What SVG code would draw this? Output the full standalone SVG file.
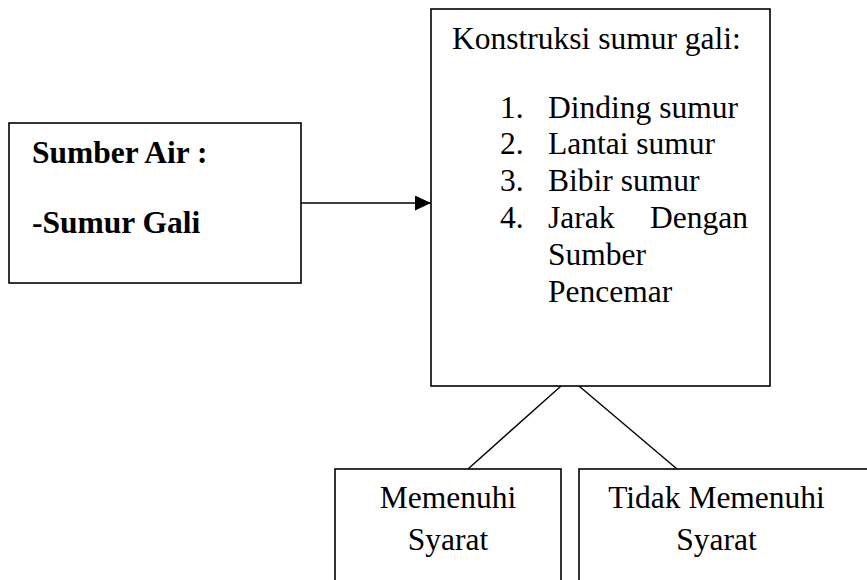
<svg xmlns="http://www.w3.org/2000/svg" width="867" height="580" viewBox="0 0 867 580">
<style>
  .box { fill: #ffffff; stroke: #000000; stroke-width: 1.6; }
  .ln { stroke: #000000; stroke-width: 1.4; fill: none; }
  .t { font-family: "Liberation Serif", "Times New Roman", serif; font-size: 31.5px; fill: #000000; }
  .b { font-weight: bold; }
  .c { text-anchor: middle; }
</style>
<defs>
  <marker id="arr" markerUnits="userSpaceOnUse" markerWidth="16" markerHeight="15" refX="16" refY="7.5" orient="auto">
    <path d="M0,0 L16,7.5 L0,15 Z" fill="#000000"/>
  </marker>
</defs>
<rect width="867" height="580" fill="#ffffff"/>
<g id="connectors">
  <line class="ln" x1="301" y1="203" x2="431" y2="203" stroke-width="2" marker-end="url(#arr)"/>
  <line class="ln" x1="561" y1="386" x2="468" y2="469"/>
  <line class="ln" x1="579" y1="386" x2="677" y2="469"/>
</g>
<g id="sumber-air">
  <rect class="box" x="9" y="123" width="292" height="160"/>
  <text class="t b" x="32" y="163">Sumber Air :</text>
  <text class="t b" x="32" y="233">-Sumur Gali</text>
</g>
<g id="konstruksi">
  <rect class="box" x="431" y="9" width="339" height="377"/>
  <text class="t" x="452" y="49">Konstruksi sumur gali:</text>
  <text class="t" x="500" y="118">1.</text>
  <text class="t" x="548" y="118">Dinding sumur</text>
  <text class="t" x="500" y="154">2.</text>
  <text class="t" x="548" y="154">Lantai sumur</text>
  <text class="t" x="500" y="191">3.</text>
  <text class="t" x="548" y="191">Bibir sumur</text>
  <text class="t" x="500" y="228">4.</text>
  <text class="t" x="548" y="228">Jarak</text>
  <text class="t" x="650" y="228">Dengan</text>
  <text class="t" x="548" y="265">Sumber</text>
  <text class="t" x="548" y="302">Pencemar</text>
</g>
<g id="memenuhi">
  <rect class="box" x="335" y="469" width="226" height="130"/>
  <text class="t c" x="448" y="508">Memenuhi</text>
  <text class="t c" x="448" y="550">Syarat</text>
</g>
<g id="tidak-memenuhi">
  <rect class="box" x="579" y="469" width="310" height="130"/>
  <text class="t c" x="716.5" y="508">Tidak Memenuhi</text>
  <text class="t c" x="716.5" y="550">Syarat</text>
</g>
</svg>
